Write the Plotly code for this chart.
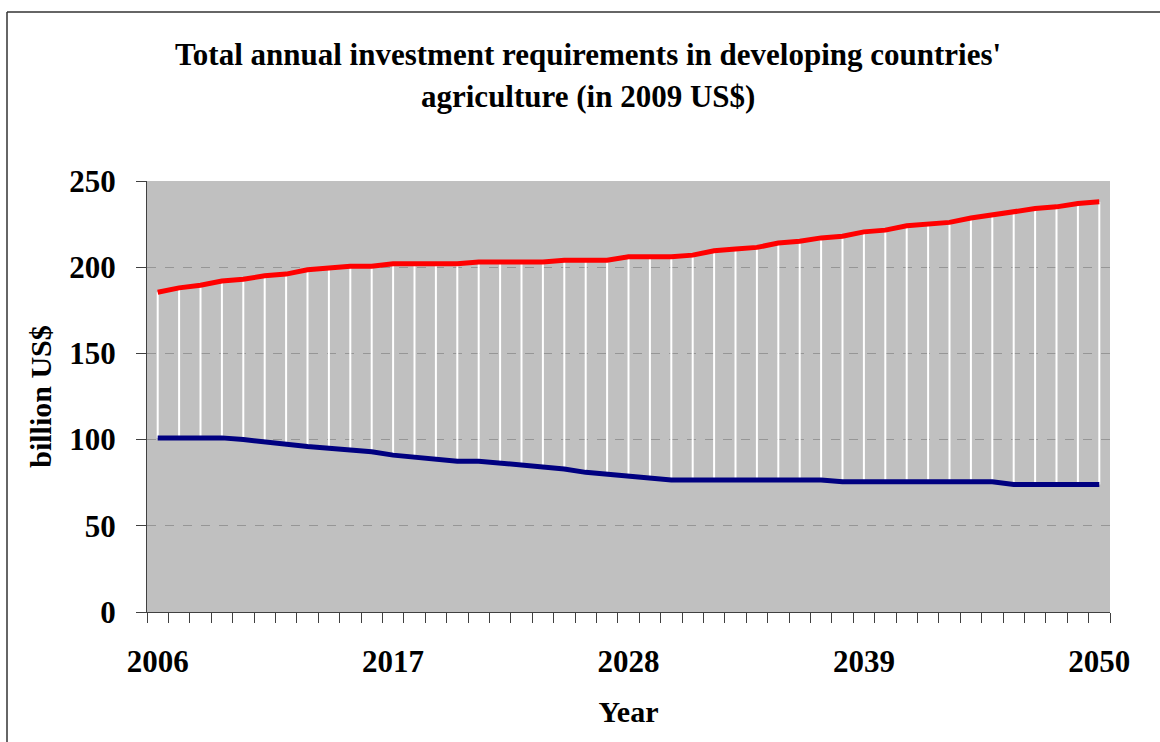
import plotly.graph_objects as go

# ---- data ----
years = list(range(2006, 2051))
high_values = [185.5, 188, 189.5, 192, 193, 195, 196, 198.5, 199.5, 200.5,
               200.5, 202, 202, 202, 202, 203, 203, 203, 203, 204,
               204, 204, 206, 206, 206, 207, 209.5, 210.5, 211.5, 214,
               215, 217, 218, 220.5, 221.5, 224, 225, 226, 228.5, 230.5,
               232.5, 234, 235, 237, 238]
low_values = [101, 101, 101, 101, 100, 98.5, 97.5, 96, 95, 94,
              93, 91, 90, 89, 87.5, 87.5, 86.5, 85, 84, 83,
              81, 80, 79, 77.5, 76.5, 76.5, 76.5, 76.5, 76.5, 76.5,
              76.5, 76.5, 75.5, 75.5, 75.5, 75.5, 75.5, 75.5, 75.5, 75.5,
              74, 74, 74, 74, 74]
x_tick_labels = ["2006", "2017", "2028", "2039", "2050"]
y_tick_values = [0, 50, 100, 150, 200, 250]
title_lines = ["Total annual investment requirements in developing countries'",
               "agriculture (in 2009 US$)"]

cats = [str(y) for y in years]
ticktext = [c if c in x_tick_labels else "" for c in cats]

# high-low connector lines
hl_x, hl_y = [], []
for c, lo, hi in zip(cats, low_values, high_values):
    hl_x += [c, c, None]
    hl_y += [lo, hi, None]

FONT = "Liberation Serif, Times New Roman, serif"

fig = go.Figure()
fig.add_trace(go.Scatter(x=hl_x, y=hl_y, mode="lines",
                         line=dict(color="white", width=2),
                         showlegend=False, hoverinfo="skip"))
fig.add_trace(go.Scatter(x=cats, y=high_values, mode="lines",
                         line=dict(color="#FF0000", width=5),
                         showlegend=False))
fig.add_trace(go.Scatter(x=cats, y=low_values, mode="lines",
                         line=dict(color="#000080", width=5),
                         showlegend=False))

L, R, T, B = 147, 50, 181, 130
W, H = 1160, 742
pw, ph = W - L - R, H - T - B


def px_x(p):
    return (p - L) / pw


def px_y(p):
    return (H - B - p) / ph


annotations = []
for line_text, cy in zip(title_lines, [55, 97]):
    annotations.append(dict(
        text="<b>" + line_text + "</b>", showarrow=False,
        xref="paper", yref="paper", x=px_x(588), y=px_y(cy),
        xanchor="center", yanchor="middle",
        font=dict(family=FONT, size=31, color="black"),
    ))

fig.update_layout(
    width=W, height=H, autosize=False,
    margin=dict(l=L, r=R, t=T, b=B, pad=0),
    paper_bgcolor="white",
    plot_bgcolor="#C0C0C0",
    font=dict(family=FONT, color="black"),
    annotations=annotations,
    xaxis=dict(
        type="category",
        range=[-0.5, len(cats) - 0.5],
        tickmode="array", tickvals=cats, ticktext=ticktext,
        tickson="boundaries",
        ticks="outside", ticklen=10, tickcolor="#404040", tickwidth=1,
        showline=True, linecolor="#404040", linewidth=1,
        showgrid=False, zeroline=False,
        tickangle=0,
        tickfont=dict(family=FONT, size=31, color="black", weight="bold"),
        ticklabelstandoff=22,
        title=dict(text="<b>Year</b>", font=dict(family=FONT, size=30, color="black"),
                   standoff=22),
    ),
    yaxis=dict(
        range=[0, 250],
        tickmode="array", tickvals=y_tick_values,
        ticks="outside", ticklen=10, tickcolor="#404040", tickwidth=1,
        showline=True, linecolor="#404040", linewidth=1,
        showgrid=True, gridcolor="#969696", griddash="dash", gridwidth=1,
        zeroline=False,
        tickfont=dict(family=FONT, size=31, color="black", weight="bold"),
        ticklabelstandoff=14,
        title=dict(text="<b>billion US$</b>", font=dict(family=FONT, size=30, color="black"),
                   standoff=8),
    ),
    shapes=[
        dict(type="line", xref="paper", yref="paper",
             x0=px_x(7), x1=px_x(1200), y0=px_y(12), y1=px_y(12),
             line=dict(color="#333333", width=1.5)),
        dict(type="line", xref="paper", yref="paper",
             x0=px_x(7), x1=px_x(7), y0=px_y(12), y1=px_y(800),
             line=dict(color="#333333", width=1.5)),
    ],
)

fig.write_html("out.html", config={"displayModeBar": False},
               post_script="document.body.style.margin='0';")
